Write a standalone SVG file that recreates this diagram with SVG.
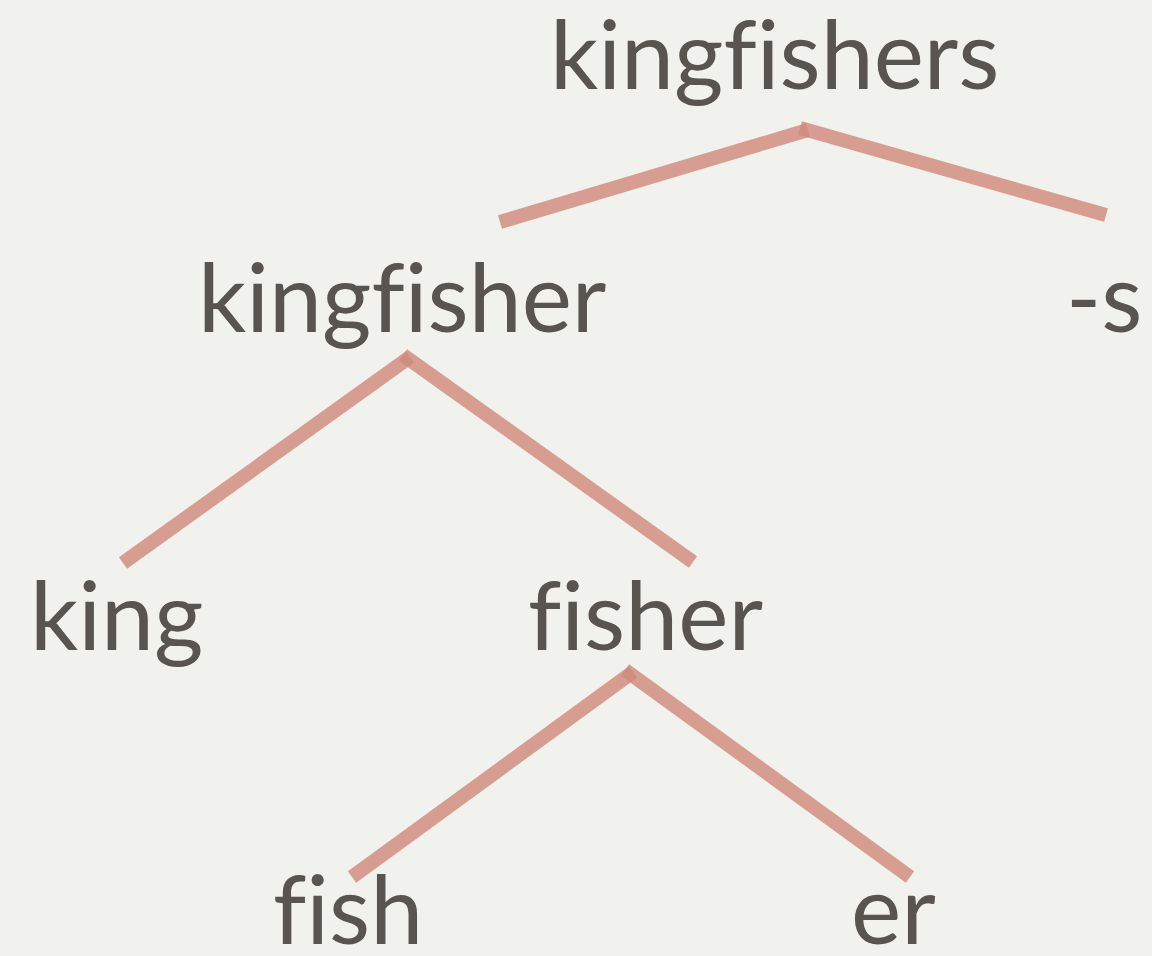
<svg xmlns="http://www.w3.org/2000/svg" width="1152" height="956" viewBox="0 0 1152 956">
  <style>
    .label { font-family: "Lato", "Noto Sans", "Liberation Sans", sans-serif; font-size: 95px; fill: #58544f; font-variant-ligatures: none; font-feature-settings: "liga" 0; }
    .branch { stroke: #cf8a7b; stroke-opacity: 0.82; stroke-width: 14; stroke-linecap: butt; fill: none; }
  </style>
  <rect width="1152" height="956" fill="#f1f1ed"/>

  <g id="connectors">
    <line class="branch" x1="500" y1="222" x2="808" y2="130"/>
    <line class="branch" x1="800" y1="128" x2="1106" y2="215"/>
    <line class="branch" x1="123" y1="563" x2="410" y2="357"/>
    <line class="branch" x1="403" y1="355" x2="693" y2="562"/>
    <line class="branch" x1="352" y1="877" x2="633" y2="672"/>
    <line class="branch" x1="625" y1="670" x2="910" y2="877"/>
  </g>

  <g id="node-kingfishers"><text class="label" x="550" y="89">kingfishers</text></g>
  <g id="node-kingfisher"><text class="label" x="198" y="332">kingfisher</text></g>
  <g id="node-s"><text class="label" x="1066" y="332">-s</text></g>
  <g id="node-king"><text class="label" x="30" y="650">king</text></g>
  <g id="node-fisher"><text class="label" x="528" y="650">fisher</text></g>
  <g id="node-fish"><text class="label" x="273" y="944">fish</text></g>
  <g id="node-er"><text class="label" x="851" y="944">er</text></g>
</svg>
